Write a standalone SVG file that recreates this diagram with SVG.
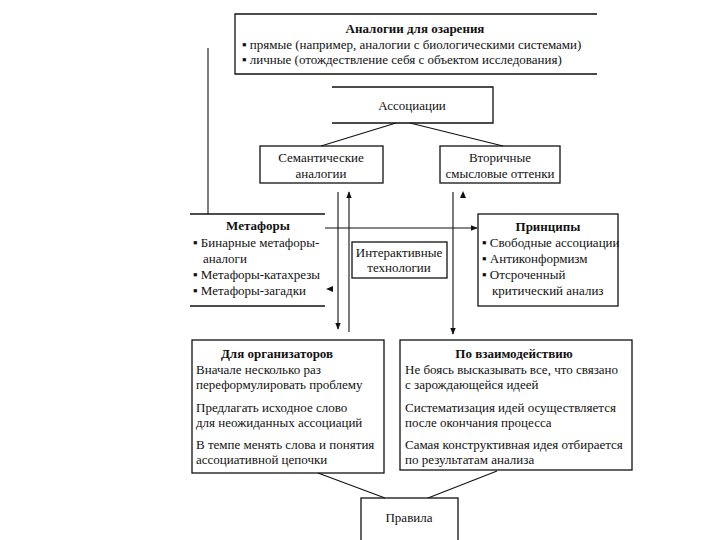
<svg xmlns="http://www.w3.org/2000/svg" width="720" height="540" viewBox="0 0 720 540">
<defs>
<style>
text{fill:#111;font-family:'Liberation Serif','Times New Roman',serif;font-size:13px}
.b{font-weight:bold}
.c{text-anchor:middle}
.box{fill:none;stroke:#111;stroke-width:1.3}
.ln{fill:none;stroke:#111;stroke-width:1.1}
</style>
<marker id="ah" viewBox="0 0 10 10" refX="9" refY="5" markerWidth="7" markerHeight="7" orient="auto" markerUnits="userSpaceOnUse"><path d="M0,1 L10,5 L0,9 Z" fill="#111"/></marker>
</defs>
<rect width="720" height="540" fill="#fff"/>
<g id="connectors">
<line class="ln" x1="208" y1="48" x2="208" y2="214"/>
<line class="ln" x1="396" y1="123" x2="321" y2="146"/>
<line class="ln" x1="410" y1="123" x2="503" y2="146"/>
<line class="ln" x1="325" y1="228" x2="477" y2="228" marker-end="url(#ah)"/>
<line class="ln" x1="338" y1="192" x2="338" y2="329" marker-end="url(#ah)"/>
<line class="ln" x1="349" y1="332" x2="349" y2="192" marker-end="url(#ah)"/>
<line class="ln" x1="453" y1="192" x2="453" y2="334" marker-end="url(#ah)"/>
<path d="M326,289 L333,286 L333,292 Z" fill="#111"/>
<path d="M463,191 L460,198 L466,198 Z" fill="#111"/>
<line class="ln" x1="318" y1="473" x2="385" y2="498"/>
<line class="ln" x1="497" y1="471" x2="428" y2="498"/>
</g>
<g id="analogies">
<path class="box" d="M597,14 L235,14 L235,74 L597,74"/>
<text class="b c" x="415" y="33">Аналогии для озарения</text>
<text x="242" y="49">▪ прямые (например, аналогии с биологическими системами)</text>
<text x="242" y="64">▪ личные (отождествление себя с объектом исследования)</text>
</g>
<g id="associations">
<path class="box" d="M332,87 L493,87 L493,123 L332,123"/>
<text class="c" x="412" y="110">Ассоциации</text>
</g>
<g id="semantic">
<rect class="box" x="260" y="146" width="123" height="37"/>
<text class="c" x="321" y="162">Семантические</text>
<text class="c" x="321" y="178">аналогии</text>
</g>
<g id="secondary">
<rect class="box" x="440" y="146" width="120" height="37"/>
<text class="c" x="500" y="162">Вторичные</text>
<text class="c" x="500" y="178">смысловые оттенки</text>
</g>
<g id="metaphors">
<line class="box" x1="190" y1="214" x2="325" y2="214"/>
<line class="box" x1="190" y1="306" x2="325" y2="306"/>
<text class="b c" x="258" y="230">Метафоры</text>
<text x="193" y="247">▪ Бинарные метафоры-</text>
<text x="203" y="263">аналоги</text>
<text x="193" y="279">▪ Метафоры-катахрезы</text>
<text x="193" y="295">▪ Метафоры-загадки</text>
</g>
<g id="interactive">
<rect class="box" x="352" y="242" width="95" height="36"/>
<text class="c" x="399" y="257">Интерактивные</text>
<text class="c" x="399" y="272">технологии</text>
</g>
<g id="principles">
<rect class="box" x="478" y="214" width="140" height="92"/>
<text class="b c" x="548" y="231">Принципы</text>
<text x="482" y="247">▪ Свободные ассоциации</text>
<text x="482" y="263">▪ Антиконформизм</text>
<text x="482" y="279">▪ Отсроченный</text>
<text x="492" y="295">критический анализ</text>
</g>
<g id="organizers">
<rect class="box" x="192" y="340" width="192" height="133"/>
<text class="b c" x="277" y="358">Для организаторов</text>
<text x="196" y="374">Вначале несколько раз</text>
<text x="196" y="389">переформулировать проблему</text>
<text x="196" y="412">Предлагать исходное слово</text>
<text x="196" y="427">для неожиданных ассоциаций</text>
<text x="196" y="449">В темпе менять слова и понятия</text>
<text x="196" y="464">ассоциативной цепочки</text>
</g>
<g id="interaction">
<rect class="box" x="400" y="340" width="232" height="130"/>
<text class="b c" x="514" y="358">По взаимодействию</text>
<text x="405" y="374">Не боясь высказывать все, что связано</text>
<text x="405" y="389">с зарождающейся идеей</text>
<text x="405" y="412">Систематизация идей осуществляется</text>
<text x="405" y="427">после окончания процесса</text>
<text x="405" y="449">Самая конструктивная идея отбирается</text>
<text x="405" y="464">по результатам анализа</text>
</g>
<g id="rules">
<rect class="box" x="361" y="498" width="97" height="50"/>
<text class="c" x="409" y="522">Правила</text>
</g>
</svg>
